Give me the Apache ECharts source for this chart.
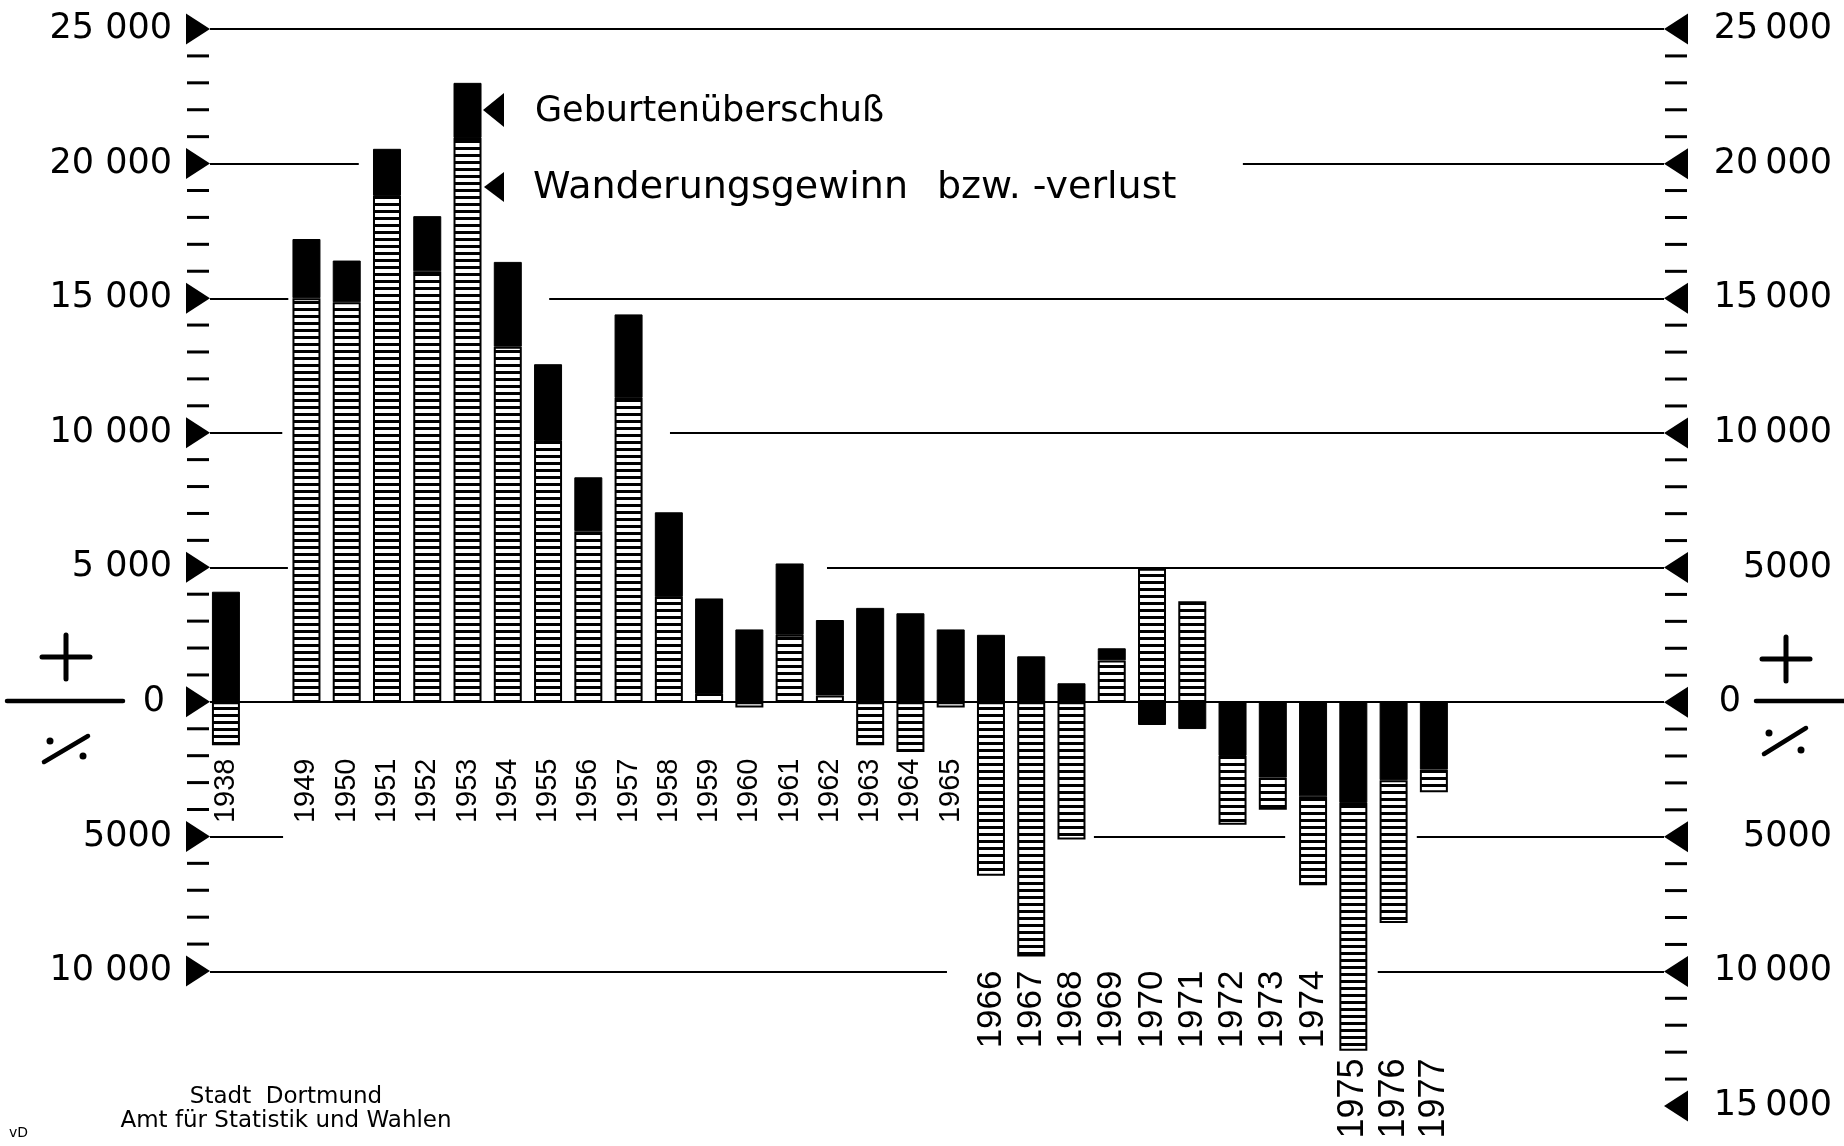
<!DOCTYPE html>
<html><head><meta charset="utf-8">
<script src="https://cdn.jsdelivr.net/npm/echarts@6/dist/echarts.min.js"></script>
<style>html,body{margin:0;padding:0;background:#fff}#c{width:1844px;height:1146px}</style>
</head><body><div id="c"></div>
<script>
// ---------- data ----------
const years = ['1938','','1949','1950','1951','1952','1953','1954','1955','1956','1957','1958','1959','1960','1961','1962','1963','1964','1965','1966','1967','1968','1969','1970','1971','1972','1973','1974','1975','1976','1977'];
const geburtenueberschuss = [4100,null,2200,1550,1750,2050,2050,3150,2850,2000,3100,3150,3550,2700,2650,2800,3500,3300,2700,2500,1700,700,450,-850,-1000,-2000,-2800,-3500,-3750,-2900,-2500];
const wanderung = [-1600,null,15000,14850,18800,16000,20950,13200,9700,6350,11300,3900,300,-200,2500,250,-1600,-1850,-200,-6450,-9450,-5100,1550,4950,3750,-2550,-1200,-3300,-9200,-5300,-850];
const leftTickValues = [25000,20000,15000,10000,5000,0,-5000,-10000];
const leftTickLabels = ['25 000','20 000','15 000','10 000','5 000','0','5000','10 000'];
const rightTickValues = [25000,20000,15000,10000,5000,0,-5000,-10000,-15000];
const rightTickLabels = ['25\u2009000','20\u2009000','15\u2009000','10\u2009000','5000','0','5000','10\u2009000','15\u2009000'];
const legendGeb = 'Geburtenüberschuß';
const legendWand1 = 'Wanderungsgewinn';
const legendWand2 = 'bzw. -verlust';
const footer1 = 'Stadt  Dortmund';
const footer2 = 'Amt für Statistik und Wahlen';

// ---------- helpers ----------
const pos = a => a.map(v => (v != null && v > 0) ? v : null);
const neg = a => a.map(v => (v != null && v < 0) ? v : null);
const minorTicks = (lo, hi) => { const r = []; for (let v = lo; v <= hi; v += 1000) if (v % 5000 !== 0) r.push(v); return r; };
const pc = document.createElement('canvas'); pc.width = 8; pc.height = 7;
const pctx = pc.getContext('2d');
pctx.fillStyle = '#fff'; pctx.fillRect(0,0,8,7);
pctx.fillStyle = '#000'; pctx.fillRect(0,0,8,3);
const stripe = { image: pc, repeat: 'repeat' };

// x-geometry of overlay grid in slot units (1938 slot centre = 0)
const xMin = -0.395, xMax = 35.72;
const gridSegments = [
  [25000, xMin, xMax],
  [20000, xMin, 3.3], [20000, 25.26, xMax],
  [15000, xMin, 1.55], [15000, 8.03, xMax],
  [10000, xMin, 1.4], [10000, 11.03, xMax],
  [5000, xMin, 1.54], [5000, 14.93, xMax],
  [0, xMin, xMax],
  [-5000, xMin, 1.42], [-5000, 21.56, 26.31], [-5000, 29.58, xMax],
  [-10000, xMin, 17.91], [-10000, 28.61, xMax]
];
function rowOf(y){ const n = +y; if (!n) return -1; return n <= 1965 ? 0 : (n <= 1974 ? 1 : 2); }
const rowOffsets = [-351.5, -139.5, -51.5];
const rowFont = [29, 35, 36];

const numFont = 'DejaVu Sans';
const chart = echarts.init(document.getElementById('c'), null, {renderer:'canvas'});
const tri = (x, y, w, h) => ({ type:'polygon', silent:true,
  shape:{ points: [[x,y],[x+w,y-h/2],[x+w,y+h/2]] }, style:{ fill:'#000' } });
const seg = (x1,y1,x2,y2,w) => ({ type:'line', silent:true, shape:{x1,y1,x2,y2}, style:{stroke:'#000', lineWidth:w, lineCap:'round'} });
const dot = (cx,cy,r) => ({ type:'circle', silent:true, shape:{cx,cy,r}, style:{fill:'#000'} });
const txt = (x,y,text,size,align) => ({ type:'text', silent:true, x, y,
  style:{ text, fill:'#000', font: size + 'px "DejaVu Sans"', align: align || 'left', verticalAlign:'middle' } });

const barBase = { type:'bar', stack:'a', xAxisIndex:0, yAxisIndex:0, barWidth:28, silent:true, animation:false };
const markBase = { type:'scatter', clip:false, silent:true, z:1, itemStyle:{color:'#000', opacity:1} };

const option = {
  animation: false,
  backgroundColor: '#fff',
  textStyle: { fontFamily: numFont, color: '#000' },
  grid: [
    { left: 205.8, right: 1844 - 1454, top: 29, bottom: 40, outerBoundsMode: 'none', containLabel: false },
    { left: 210, right: 180, top: 29, bottom: 40, outerBoundsMode: 'none', containLabel: false },
    { left: 210, right: 180, top: 29, bottom: 175, outerBoundsMode: 'none', containLabel: false }
  ],
  xAxis: [
    { type:'category', gridIndex:0, data: years, show:false },
    ...rowOffsets.map((off, r) => ({
      type:'category', gridIndex:0, data: years, position:'bottom', offset: off,
      axisLine:{show:false}, axisTick:{show:false}, splitLine:{show:false},
      axisLabel:{ interval:0, rotate:90, margin:4, hideOverlap:false, color:'#000',
        fontFamily:'Liberation Sans', fontSize:rowFont[r], padding:[8,0,0,0],
        formatter: v => rowOf(v) === r ? v : '' }
    })),
    { type:'value', gridIndex:1, min:xMin, max:xMax, show:false },
    { type:'value', gridIndex:2, min:0, max:1, show:false }
  ],
  yAxis: [
    { type:'value', gridIndex:0, min:-15000, max:25000, interval:5000, show:false },
    { type:'value', gridIndex:1, position:'right', min:-15000, max:25000, interval:5000,
      axisLine:{show:false}, axisTick:{show:false}, splitLine:{show:false}, minorTick:{show:false},
      axisLabel:{ margin:168, align:'right', color:'#000', fontFamily:numFont, fontSize:35,
        formatter: v => { const i = rightTickValues.indexOf(v); if (i < 0) return ''; return v === 0 ? '{z|0}' : rightTickLabels[i]; },
        rich:{ z:{ fontFamily:numFont, fontSize:35, color:'#000', padding:[0,91,0,0] } } } },
    { type:'value', gridIndex:2, position:'left', min:-10000, max:25000, interval:5000,
      axisLine:{show:false}, axisTick:{show:false}, splitLine:{show:false}, minorTick:{show:false},
      axisLabel:{ margin:38, color:'#000', fontFamily:numFont, fontSize:35,
        formatter: v => { const i = leftTickValues.indexOf(v); if (i < 0) return ''; return v === 0 ? '{z|0}' : leftTickLabels[i]; },
        rich:{ z:{ fontFamily:numFont, fontSize:35, color:'#000', padding:[0,7,0,0] } } } }
  ],
  series: [
    Object.assign({}, markBase, { xAxisIndex:4, yAxisIndex:1,
      symbol:'path://M1,0 L0,0.5 L1,1 Z', symbolSize:[24,31], symbolOffset:[12,0],
      data: rightTickValues.map(v => [xMax, v]),
      markLine:{ silent:true, symbol:['none','none'], label:{show:false}, animation:false,
        lineStyle:{color:'#000', width:2.2, type:'solid', opacity:1}, emphasis:{disabled:true},
        data: gridSegments.map(s => [{coord:[s[1], s[0]]}, {coord:[s[2], s[0]]}]) } }),
    Object.assign({}, markBase, { xAxisIndex:4, yAxisIndex:1,
      symbol:'rect', symbolSize:[22,3], symbolOffset:[12,0],
      data: minorTicks(-15000, 25000).map(v => [xMax, v]) }),
    Object.assign({}, markBase, { xAxisIndex:5, yAxisIndex:2,
      symbol:'path://M0,0 L1,0.5 L0,1 Z', symbolSize:[24,31], symbolOffset:[-12,0],
      data: leftTickValues.map(v => [0, v]) }),
    Object.assign({}, markBase, { xAxisIndex:5, yAxisIndex:2,
      symbol:'rect', symbolSize:[22,3], symbolOffset:[-12,0],
      data: minorTicks(-10000, 25000).map(v => [0, v]) }),
    Object.assign({}, barBase, { name:'Wanderungsgewinn', data: pos(wanderung),
      itemStyle:{ color: stripe, borderColor:'#000', borderWidth:2 } }),
    Object.assign({}, barBase, { name:'Geburtenüberschuß', data: pos(geburtenueberschuss),
      itemStyle:{ color:'#000', borderColor:'#000', borderWidth:1 } }),
    Object.assign({}, barBase, { name:'Geburtenüberschuß (neg)', data: neg(geburtenueberschuss),
      itemStyle:{ color:'#000', borderColor:'#000', borderWidth:1 } }),
    Object.assign({}, barBase, { name:'Wanderungsverlust', data: neg(wanderung),
      itemStyle:{ color: stripe, borderColor:'#000', borderWidth:2 } })
  ],
  graphic: [
    tri(483, 110, 21, 34),
    tri(484, 187, 20, 30),
    txt(535, 111.5, legendGeb, 35),
    txt(533, 188, legendWand1, 38),
    txt(937, 188, legendWand2, 38),
    // left +/–/⁒
    seg(42,657,90,657,5), seg(66,635,66,679,5), seg(7,701,123,701,4.5),
    seg(44,762,88,736,4.5), dot(50,741,3.5), dot(83,756,3.5),
    // right +/–/⁒
    seg(1762,659,1810,659,5), seg(1786,637,1786,681,5), seg(1756,701,1844,701,4.5),
    seg(1764,754,1806,728,4.5), dot(1769,733,3.5), dot(1801,750,3.5),
    // footer
    txt(286, 1097, footer1, 23, 'center'),
    txt(286, 1121, footer2, 23, 'center'),
    txt(9, 1133, 'vD', 14)
  ]
};
chart.setOption(option);
</script></body></html>
